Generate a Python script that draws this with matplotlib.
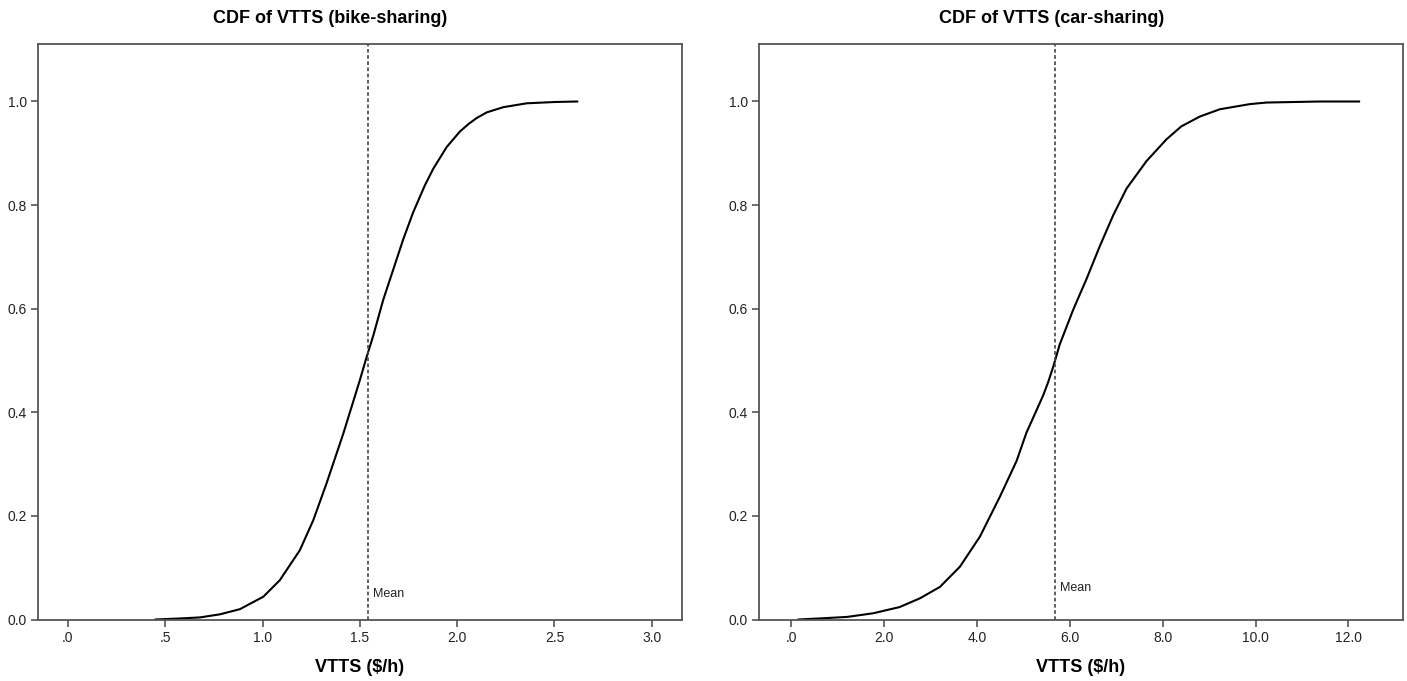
import matplotlib
matplotlib.use("Agg")
import matplotlib.pyplot as plt
from matplotlib import font_manager

# ---------------- data ----------------
bike_x = [0.45, 0.576, 0.678, 0.781, 0.884, 1.004, 1.089, 1.192, 1.261, 1.329,
          1.415, 1.500, 1.535, 1.569, 1.620, 1.672, 1.723, 1.774, 1.834, 1.877,
          1.946, 2.014, 2.060, 2.100, 2.152, 2.237, 2.357, 2.50, 2.617]
bike_y = [0.000, 0.002, 0.004, 0.010, 0.020, 0.044, 0.076, 0.134, 0.192, 0.263,
          0.359, 0.462, 0.507, 0.548, 0.617, 0.676, 0.734, 0.786, 0.838, 0.870,
          0.912, 0.942, 0.957, 0.968, 0.979, 0.989, 0.9965, 0.999, 1.000]
bike_mean = 1.54

car_x = [0.15, 0.60, 1.20, 1.76, 2.33, 2.77, 3.20, 3.63, 4.06, 4.49,
         4.85, 5.06, 5.42, 5.53, 5.64, 5.78, 6.07, 6.36, 6.64, 6.93,
         7.22, 7.65, 8.08, 8.40, 8.80, 9.23, 9.88, 10.24, 11.39, 12.23]
car_y = [0.000, 0.002, 0.005, 0.012, 0.024, 0.041, 0.063, 0.102, 0.160, 0.237,
         0.306, 0.360, 0.432, 0.458, 0.488, 0.531, 0.598, 0.658, 0.720, 0.780,
         0.832, 0.885, 0.927, 0.952, 0.971, 0.985, 0.995, 0.998, 1.000, 1.000]
car_mean = 5.67

bike_ticks = [0.0, 0.5, 1.0, 1.5, 2.0, 2.5, 3.0]
bike_ticklabels = [".0", ".5", "1.0", "1.5", "2.0", "2.5", "3.0"]
car_ticks = [0, 2, 4, 6, 8, 10, 12]
car_ticklabels = [".0", "2.0", "4.0", "6.0", "8.0", "10.0", "12.0"]
y_ticks = [0.0, 0.2, 0.4, 0.6, 0.8, 1.0]
y_ticklabels = ["0.0", "0.2", "0.4", "0.6", "0.8", "1.0"]

titles = ["CDF of VTTS (bike-sharing)", "CDF of VTTS (car-sharing)"]
xlabel = "VTTS ($/h)"
mean_label = "Mean"

# ---------------- style ----------------
avail = {f.name for f in font_manager.fontManager.ttflist}
fam = [f for f in ["Liberation Sans Narrow", "Liberation Sans", "DejaVu Sans"] if f in avail]
plt.rcParams['font.family'] = fam

spine_col = "#555555"

fig = plt.figure(figsize=(14.07, 6.81), dpi=100)
axL = fig.add_axes([38/1407, 1-619.5/681, 643.7/1407, 575.5/681])
axR = fig.add_axes([759/1407, 1-619.5/681, 643.7/1407, 575.5/681])

panels = [
    (axL, bike_x, bike_y, bike_mean, bike_ticks, bike_ticklabels, (-0.154, 3.154), titles[0], 0.049),
    (axR, car_x, car_y, car_mean, car_ticks, car_ticklabels, (-0.70, 13.17), titles[1], 0.061),
]

for ax, xs, ys, mean, xt, xtl, xlim, title, my in panels:
    ax.plot(xs, ys, color="black", lw=1.5, solid_joinstyle="round")
    ax.axvline(mean, color="#444444", lw=1.2, linestyle=(0, (2.2, 1.5)))
    ax.text(mean + (xlim[1]-xlim[0])*0.009, my, mean_label, fontsize=9,
            ha="left", va="center", color="#222222")
    ax.set_xlim(*xlim)
    ax.set_ylim(0, 1.111)
    ax.set_xticks(xt)
    ax.set_xticklabels(xtl)
    ax.set_yticks(y_ticks)
    ax.set_yticklabels(y_ticklabels)
    ax.tick_params(direction="out", length=5, width=1.2, color=spine_col,
                   labelsize=10, labelcolor="#222222", pad=3)
    for s in ax.spines.values():
        s.set_color(spine_col)
        s.set_linewidth(1.3)
    t = ax.set_title(title, fontsize=13, fontweight="bold", pad=15)
    t.set_x(0.454)
    ax.set_xlabel(xlabel, fontsize=13, fontweight="bold", labelpad=10)

fig.savefig("out.png", dpi=100)
